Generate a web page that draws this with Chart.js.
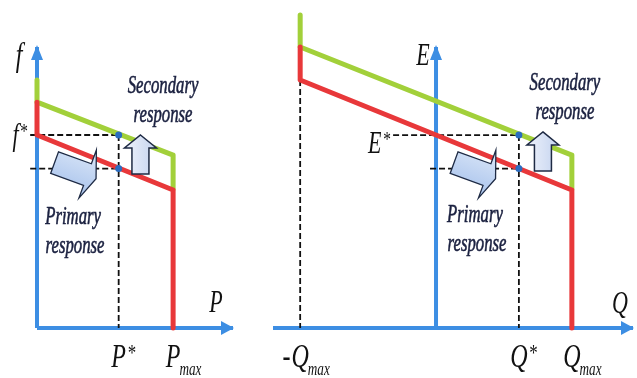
<!DOCTYPE html>
<html>
<head>
<meta charset="utf-8">
<script src="https://cdn.jsdelivr.net/npm/chart.js@4.4.0/dist/chart.umd.min.js"></script>
<style>
  html, body { margin: 0; padding: 0; background: #fff; }
  #wrap { position: relative; width: 637px; height: 378px; }
  canvas { position: absolute; top: 0; }
  #droopP { left: 0; }
  #droopQ { left: 250px; }
</style>
</head>
<body>
<div id="wrap">
  <canvas id="droopP" width="250" height="378"></canvas>
  <canvas id="droopQ" width="387" height="378"></canvas>
</div>
<script>
// f-P droop, per unit (P / Pmax, f / f*)
var pLimits = [0, 1.44];
var fAxisTop = 1.456;
var pTicks = ['P*', 'Pmax'];
var pTickValues = [0.6, 1];
var fStar = 1.0;
var fAfterPrimary = 0.826;
var fGuideStart = [-0.05, -0.05];
var secondaryP = [0, 0, 1, 1];
var secondaryF = [1.285, 1.17, 0.896, 0.72];
var primaryP = [0, 0, 1, 1];
var primaryF = [1.17, 1.0, 0.715, 0];

// E-Q droop, per unit (Q / Qmax, E / E*)
var qLimits = [-1.2, 1.45];
var eAxisTop = 1.456;
var qTicks = ['-Qmax', 'Q*', 'Qmax'];
var qTickValues = [-1, 0.61, 1];
var eStar = 1.0;
var eAfterPrimary = 0.826;
var eGuideStart = [-0.316, -0.044];
var secondaryQ = [-1, -1, 1, 1];
var secondaryE = [1.622, 1.456, 0.896, 0.72];
var primaryQ = [-1, -1, 1, 1];
var primaryE = [1.456, 1.285, 0.715, 0];

var BLUE = '#3d8ee3', GREEN = '#a2d03a', RED = '#e8383a';
var NAVY = '#1b2140', DOT = '#2a6cc0';
var SERIF = '"Liberation Serif", "DejaVu Serif", serif';

function pts(xs, ys) {
  return xs.map(function (x, i) { return { x: x, y: ys[i] }; });
}

function line(points, color, width, order, dash) {
  return {
    data: points, showLine: true, borderColor: color, borderWidth: width,
    borderDash: dash || [], pointRadius: 0, fill: false, tension: 0,
    clip: false, order: order, borderJoinStyle: 'round'
  };
}

// italic maths-ish label: optional prefix, base letter, * or subscript
function mathLabel(ctx, x, y, label, size, anchor, stretch) {
  var m = /^(-?)([A-Za-z])(\*|max)?$/.exec(label);
  var pre = m[1], base = m[2], extra = m[3] || '';
  ctx.save();
  ctx.translate(x, y);
  ctx.scale(1, stretch || 1.4);
  ctx.fillStyle = '#111';
  ctx.textBaseline = 'alphabetic';
  ctx.textAlign = 'left';
  ctx.font = 'italic ' + size + 'px ' + SERIF;
  var pw = ctx.measureText(pre).width;
  var bw = ctx.measureText(base).width;
  var small = extra === '*' ? size * 0.7 : size * 0.55;
  ctx.font = 'italic ' + small + 'px ' + SERIF;
  var ew = ctx.measureText(extra).width;
  var x0;
  if (anchor === 'right') x0 = -(bw + ew + 1);
  else x0 = -bw / 2;               // centre of base letter on x
  ctx.font = 'italic ' + size + 'px ' + SERIF;
  if (pre) ctx.fillText(pre, x0 - pw - 1, 0);
  ctx.fillText(base, x0, 0);
  ctx.font = 'italic ' + small + 'px ' + SERIF;
  if (extra === '*') ctx.fillText(extra, x0 + bw + 1, -size * 0.22);
  else if (extra) ctx.fillText(extra, x0 + bw - 1, size * 0.24);
  ctx.restore();
}

function words(ctx, x, y, text) {
  ctx.save();
  ctx.translate(x, y);
  ctx.scale(0.93, 1.36);
  ctx.fillStyle = NAVY;
  ctx.strokeStyle = NAVY;
  ctx.lineWidth = 0.45;
  ctx.textAlign = 'center';
  ctx.font = 'italic 18px ' + SERIF;
  ctx.fillText(text, 0, 0);
  ctx.strokeText(text, 0, 0);
  ctx.restore();
}

function blockArrow(ctx, cx, cy, angleDeg) {
  var shape = [[-17.5, -11.5], [17.5, -11.5], [17.5, -26], [27, 1],
               [17.5, 25], [17.5, 11.5], [-17.5, 11.5]];
  ctx.save();
  ctx.translate(cx, cy);
  ctx.rotate(angleDeg * Math.PI / 180);
  var g = ctx.createLinearGradient(0, -26, 0, 25);
  g.addColorStop(0, '#dde8f8');
  g.addColorStop(1, '#a7c2ec');
  ctx.beginPath();
  shape.forEach(function (p, i) { i ? ctx.lineTo(p[0], p[1]) : ctx.moveTo(p[0], p[1]); });
  ctx.closePath();
  ctx.fillStyle = g;
  ctx.fill();
  ctx.lineWidth = 1.3;
  ctx.strokeStyle = '#1e2a44';
  ctx.stroke();
  ctx.restore();
}

function upArrow(ctx, cx, top, bottom) {
  var shaft = 8.5, head = 16, headH = 13;
  ctx.save();
  ctx.beginPath();
  ctx.moveTo(cx, top);
  ctx.lineTo(cx + head, top + headH);
  ctx.lineTo(cx + shaft, top + headH);
  ctx.lineTo(cx + shaft, bottom);
  ctx.lineTo(cx - shaft, bottom);
  ctx.lineTo(cx - shaft, top + headH);
  ctx.lineTo(cx - head, top + headH);
  ctx.closePath();
  var g = ctx.createLinearGradient(cx - head, 0, cx + head, 0);
  g.addColorStop(0, '#eef2fb');
  g.addColorStop(1, '#c4d3ef');
  ctx.fillStyle = g;
  ctx.fill();
  ctx.lineWidth = 1.5;
  ctx.strokeStyle = '#1e2a44';
  ctx.stroke();
  ctx.restore();
}

function decor(cfg) {
  return {
    id: 'decor',
    afterDatasetsDraw: function (chart) {
      var ctx = chart.ctx, xs = chart.scales.x, ys = chart.scales.y;
      var X = function (v) { return xs.getPixelForValue(v); };
      var Y = function (v) { return ys.getPixelForValue(v); };

      // axis arrowheads
      ctx.save();
      ctx.fillStyle = BLUE;
      var hx = X(xs.max), hy = Y(0);
      ctx.beginPath();
      ctx.moveTo(hx + 1, hy); ctx.lineTo(hx - 12, hy - 7); ctx.lineTo(hx - 12, hy + 7);
      ctx.closePath(); ctx.fill();
      var vx = X(0), vy = Y(cfg.yTop);
      ctx.beginPath();
      ctx.moveTo(vx, vy - 2); ctx.lineTo(vx - 6, vy + 13); ctx.lineTo(vx + 6, vy + 13);
      ctx.closePath(); ctx.fill();
      ctx.restore();

      blockArrow(ctx, X(cfg.block[0]), Y(cfg.block[1]), 20);
      upArrow(ctx, X(cfg.up[0]), Y(cfg.up[1]), Y(cfg.up[2]));

      words(ctx, X(cfg.secondary[0]), Y(cfg.secondary[1]), 'Secondary');
      words(ctx, X(cfg.secondary[0]), Y(cfg.secondary[1]) + 29, 'response');
      words(ctx, X(cfg.primary[0]), Y(cfg.primary[1]), 'Primary');
      words(ctx, X(cfg.primary[0]) + 2, Y(cfg.primary[1]) + 29, 'response');

      // axis names
      mathLabel(ctx, hx - cfg.xNameOff[0], hy - cfg.xNameOff[1], cfg.xName, 22, 'base');
      mathLabel(ctx, vx - cfg.yNameOff[0], vy + cfg.yNameOff[1], cfg.yName, cfg.yNameSize, 'base');

      // tick labels under the P / Q axis
      cfg.ticks.forEach(function (t, i) {
        mathLabel(ctx, X(cfg.tickValues[i]), Y(0) + 39, t, 24, 'base');
      });
      // f* / E*
      mathLabel(ctx, X(cfg.starAt[0]) - 3, Y(cfg.starAt[1]) + cfg.starDy, cfg.starLabel, 22, 'right');
    }
  };
}

function droopChart(id, xr, yMax, pad, datasets, cfg) {
  return new Chart(document.getElementById(id), {
    type: 'scatter',
    data: { datasets: datasets },
    options: {
      responsive: false,
      animation: false,
      events: [],
      layout: { padding: pad },
      scales: {
        x: { type: 'linear', display: false, min: xr[0], max: xr[1] },
        y: { type: 'linear', display: false, min: 0, max: yMax }
      },
      plugins: { legend: { display: false }, tooltip: { enabled: false } }
    },
    plugins: [decor(cfg)]
  });
}

window.onload = function () {
  // left panel
  var pStar = pTickValues[0];
  droopChart('droopP', pLimits, fAxisTop, { left: 37, right: 17, top: 47, bottom: 50 }, [
    { data: pts([pStar, pStar], [fStar, fAfterPrimary]), showLine: false, pointRadius: 3.5,
      pointBackgroundColor: DOT, pointBorderWidth: 0, clip: false, order: 1 },
    line(pts(primaryP, primaryF), RED, 5, 2),
    line(pts(secondaryP, secondaryF), GREEN, 5, 3),
    line(pts([fGuideStart[0], pStar], [fStar, fStar]), '#111', 1.8, 4, [6, 3]),
    line(pts([fGuideStart[1], pStar], [fAfterPrimary, fAfterPrimary]), '#111', 1.8, 4, [6, 3]),
    line(pts([pStar, pStar], [fStar, 0]), '#111', 1.8, 4, [6, 3]),
    line(pts([0, pLimits[1]], [0, 0]), BLUE, 4, 5),
    line(pts([0, 0], [0, fAxisTop]), BLUE, 4, 5)
  ], {
    yTop: fAxisTop, xName: 'P', xNameOff: [17, 16], yName: 'f', yNameOff: [18, 19], yNameSize: 24,
    ticks: pTicks, tickValues: pTickValues,
    starLabel: 'f*', starAt: [fGuideStart[0], fStar], starDy: 10,
    block: [0.25, 0.826], up: [0.76, 1.0, 0.798],
    secondary: [0.926, 1.218], primary: [0.265, 0.539]
  });

  // right panel
  var qStar = qTickValues[1];
  droopChart('droopQ', qLimits, secondaryE[0], { left: 23, right: 4, top: 15, bottom: 50 }, [
    { data: pts([qStar, qStar], [eStar, eAfterPrimary]), showLine: false, pointRadius: 3.5,
      pointBackgroundColor: DOT, pointBorderWidth: 0, clip: false, order: 1 },
    line(pts(primaryQ, primaryE), RED, 5, 2),
    line(pts(secondaryQ, secondaryE), GREEN, 5, 3),
    line(pts([eGuideStart[0], qStar], [eStar, eStar]), '#111', 1.8, 4, [6, 3]),
    line(pts([eGuideStart[1], qStar], [eAfterPrimary, eAfterPrimary]), '#111', 1.8, 4, [6, 3]),
    line(pts([qStar, qStar], [eStar, 0]), '#111', 1.8, 4, [6, 3]),
    line(pts([primaryQ[1], primaryQ[1]], [primaryE[1], 0]), '#111', 1.8, 4, [6, 3]),
    line(pts([qLimits[0], qLimits[1]], [0, 0]), BLUE, 4, 5),
    line(pts([0, 0], [0, eAxisTop]), BLUE, 4, 5)
  ], {
    yTop: eAxisTop, xName: 'Q', xNameOff: [13, 15], yName: 'E', yNameOff: [13, 18], yNameSize: 22,
    ticks: qTicks, tickValues: qTickValues,
    starLabel: 'E*', starAt: [eGuideStart[0], eStar], starDy: 18,
    block: [0.254, 0.826], up: [0.787, 1.016, 0.813],
    secondary: [0.949, 1.233], primary: [0.287, 0.549]
  });
};
</script>
</body>
</html>
